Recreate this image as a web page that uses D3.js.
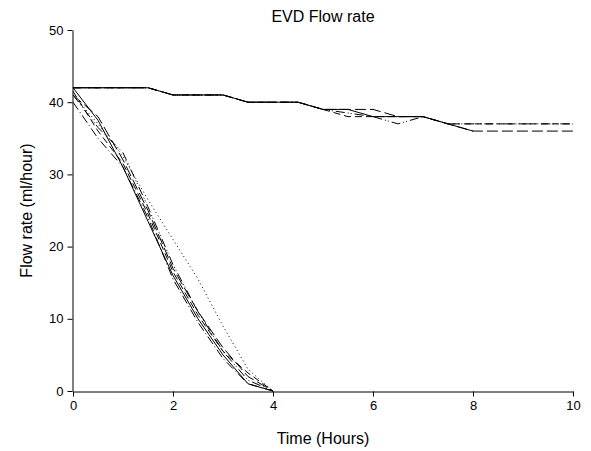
<!DOCTYPE html>
<html>
<head>
<meta charset="utf-8">
<script src="https://cdn.jsdelivr.net/npm/d3@7"></script>
<style>
	body { margin: 0; background: #fff; }
	text { font-family: "Liberation Sans", Arial, sans-serif; fill: #000; }
</style>
</head>
<body>
<div id="chart"></div>
<script>
// time points (hours)
var hoursShort = [0, 0.5, 1, 1.5, 2, 2.5, 3, 3.5, 4];
var hoursLong = [0, 0.5, 1, 1.5, 2, 2.5, 3, 3.5, 4, 4.5, 5, 5.5, 6, 6.5, 7, 7.5, 8, 8.5, 9, 9.5, 10];
var hoursSolidTop = [0, 0.5, 1, 1.5, 2, 2.5, 3, 3.5, 4, 4.5, 5, 5.5, 6, 6.5, 7, 7.5, 8];

// catheters that kept flowing
var flowSolidTop = [42, 42, 42, 42, 41, 41, 41, 40, 40, 40, 39, 39, 38, 38, 38, 37, 36];
var flowLongDashTop = [42, 42, 42, 42, 41, 41, 41, 40, 40, 40, 39, 39, 39, 38, 38, 37, 36, 36, 36, 36, 36];
var flowDashTop = [42, 42, 42, 42, 41, 41, 41, 40, 40, 40, 39, 38, 38, 38, 38, 37, 37, 37, 37, 37, 37];
var flowDashDotDotTop = [42, 42, 42, 42, 41, 41, 41, 40, 40, 40, 39, 38.5, 38, 37, 38, 37, 37, 37, 37, 37, 37];

// catheters that blocked
var flowSolidDown = [42, 37.5, 31, 23.5, 16, 10, 5, 1, 0];
var flowLongDashDown = [41, 38, 32, 25, 17, 11, 6, 2, 0];
var flowDashDotDown = [40, 35, 31, 24, 15.5, 9.5, 4.5, 1, 0];
var flowDashDown = [41.5, 36, 31.5, 24.5, 16.5, 10.5, 5.5, 2.5, 0];
var flowDashDotDotDown = [41, 36.5, 33, 25.5, 17.5, 11, 5.5, 1.5, 0];
var flowDottedDown = [41, 37, 32.5, 26.5, 21, 15.5, 9, 3, 0];

var xTicks = [0, 2, 4, 6, 8, 10];
var yTicks = [0, 10, 20, 30, 40, 50];

var series = [
	{ x: hoursLong, y: flowLongDashTop, dash: "11,4" },
	{ x: hoursLong, y: flowDashTop, dash: "7,4" },
	{ x: hoursLong, y: flowDashDotDotTop, dash: "9,3,1,2,1,3" },
	{ x: hoursSolidTop, y: flowSolidTop, dash: null },
	{ x: hoursShort, y: flowLongDashDown, dash: "11,4" },
	{ x: hoursShort, y: flowDashDotDown, dash: "9,3,1,3" },
	{ x: hoursShort, y: flowDashDown, dash: "7,4" },
	{ x: hoursShort, y: flowDashDotDotDown, dash: "9,3,1,2,1,3" },
	{ x: hoursShort, y: flowDottedDown, dash: "1,3" },
	{ x: hoursShort, y: flowSolidDown, dash: null }
];

var width = 591, height = 451;
var margin = { left: 73, right: 18, top: 30, bottom: 60 };

var svg = d3.select("#chart")
	.append("svg")
	.attr("width", width)
	.attr("height", height);

var x = d3.scaleLinear().domain([0, 10]).range([margin.left, width - margin.right]);
var y = d3.scaleLinear().domain([0, 50]).range([height - margin.bottom, margin.top]);

var line = d3.line()
	.x(function(d) { return x(d[0]); })
	.y(function(d) { return y(d[1]); });

series.forEach(function(s) {
	var pts = s.x.map(function(t, i) { return [t, s.y[i]]; });
	svg.append("path")
		.attr("d", line(pts))
		.attr("fill", "none")
		.attr("stroke", "#000")
		.attr("stroke-width", 1)
		.attr("stroke-dasharray", s.dash);
});

var xAxis = svg.append("g")
	.attr("transform", "translate(0," + (height - margin.bottom + 0.5) + ")")
	.call(d3.axisBottom(x).tickValues(xTicks).tickSize(5).tickPadding(4).tickSizeOuter(0));
var yAxis = svg.append("g")
	.attr("transform", "translate(" + (margin.left - 0.5) + ",0)")
	.call(d3.axisLeft(y).tickValues(yTicks).tickSize(5).tickPadding(4).tickSizeOuter(0));

[xAxis, yAxis].forEach(function(a) {
	a.selectAll("path, line").attr("stroke", "#000").attr("stroke-width", 1);
	a.selectAll("text").style("font-size", "13px").style("font-family", "Liberation Sans, Arial, sans-serif");
});

svg.append("text")
	.attr("x", (margin.left + width - margin.right) / 2)
	.attr("y", 22)
	.attr("text-anchor", "middle")
	.style("font-size", "16px")
	.text("EVD Flow rate");

svg.append("text")
	.attr("x", (margin.left + width - margin.right) / 2)
	.attr("y", 444)
	.attr("text-anchor", "middle")
	.style("font-size", "16px")
	.text("Time (Hours)");

svg.append("text")
	.attr("transform", "translate(32," + ((margin.top + height - margin.bottom) / 2) + ") rotate(-90)")
	.attr("text-anchor", "middle")
	.style("font-size", "16px")
	.text("Flow rate (ml/hour)");
</script>
</body>
</html>
